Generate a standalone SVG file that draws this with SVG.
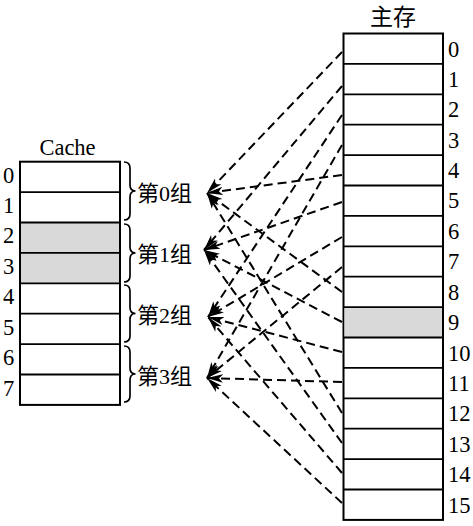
<svg xmlns="http://www.w3.org/2000/svg" width="473" height="526" viewBox="0 0 473 526">
<defs>
<marker id="ah" markerUnits="userSpaceOnUse" markerWidth="17" markerHeight="10" viewBox="0 -5 17 10" refX="16" refY="0" orient="auto">
<path d="M16,0 L0,-4.2 L4,0 L0,4.2 Z" fill="#000"/>
</marker>
<style>
.box{fill:#fff;stroke:#000;stroke-width:2}
.sep{stroke:#000;stroke-width:1.8}
.gray{fill:#d9d9d9}
.t{font-family:"Liberation Serif","Noto Sans CJK SC",serif;font-size:22.5px;fill:#000}
.cjk{font-family:"Liberation Serif","Noto Sans CJK SC",serif;font-size:22px;fill:#000}
.br{fill:none;stroke:#000;stroke-width:1.7}
.ln{fill:none;stroke:#000;stroke-width:2;stroke-dasharray:9,5;marker-end:url(#ah)}
</style>
</defs>
<rect width="473" height="526" fill="#fff"/>

<g id="cache">
<text class="t" x="67.5" y="155" text-anchor="middle">Cache</text>
<rect class="box" x="20" y="161.7" width="100" height="243.2"/>
<rect class="gray" x="21" y="222.5" width="98" height="60.8"/>
<g class="sep">
<line x1="20" y1="192.1" x2="120" y2="192.1"/>
<line x1="20" y1="222.5" x2="120" y2="222.5"/>
<line x1="20" y1="252.9" x2="120" y2="252.9"/>
<line x1="20" y1="283.3" x2="120" y2="283.3"/>
<line x1="20" y1="313.7" x2="120" y2="313.7"/>
<line x1="20" y1="344.1" x2="120" y2="344.1"/>
<line x1="20" y1="374.5" x2="120" y2="374.5"/>
</g>
<g class="t">
<text x="3" y="183">0</text>
<text x="3" y="213">1</text>
<text x="3" y="243">2</text>
<text x="3" y="274">3</text>
<text x="3" y="304">4</text>
<text x="3" y="335">5</text>
<text x="3" y="365">6</text>
<text x="3" y="396">7</text>
</g>
</g>

<g id="group0">
<path class="br" d="M124,162 Q130,162 130,168 L130,185 Q130,191 135.5,191 Q130,191 130,197 L130,214 Q130,220 124,220"/>
<text class="cjk" x="137" y="201">第0组</text>
</g>
<g id="group1">
<path class="br" d="M124,224 Q130,224 130,230 L130,247 Q130,253 135.5,253 Q130,253 130,259 L130,276 Q130,282 124,282"/>
<text class="cjk" x="137" y="262">第1组</text>
</g>
<g id="group2">
<path class="br" d="M124,285 Q130,285 130,291 L130,307.5 Q130,313.5 135.5,313.5 Q130,313.5 130,319.5 L130,336 Q130,342 124,342"/>
<text class="cjk" x="137" y="323">第2组</text>
</g>
<g id="group3">
<path class="br" d="M124,346 Q130,346 130,352 L130,368 Q130,374 135.5,374 Q130,374 130,380 L130,396 Q130,402 124,402"/>
<text class="cjk" x="137" y="384">第3组</text>
</g>

<g id="memory">
<text class="cjk" x="393" y="25" text-anchor="middle" style="font-size:23px">主存</text>
<rect class="box" x="343.5" y="33.5" width="99.5" height="486.4"/>
<rect class="gray" x="344.5" y="307.1" width="97.5" height="30.4"/>
<g class="sep">
<line x1="343.5" y1="63.9" x2="443" y2="63.9"/>
<line x1="343.5" y1="94.3" x2="443" y2="94.3"/>
<line x1="343.5" y1="124.7" x2="443" y2="124.7"/>
<line x1="343.5" y1="155.1" x2="443" y2="155.1"/>
<line x1="343.5" y1="185.5" x2="443" y2="185.5"/>
<line x1="343.5" y1="215.9" x2="443" y2="215.9"/>
<line x1="343.5" y1="246.3" x2="443" y2="246.3"/>
<line x1="343.5" y1="276.7" x2="443" y2="276.7"/>
<line x1="343.5" y1="307.1" x2="443" y2="307.1"/>
<line x1="343.5" y1="337.5" x2="443" y2="337.5"/>
<line x1="343.5" y1="367.9" x2="443" y2="367.9"/>
<line x1="343.5" y1="398.3" x2="443" y2="398.3"/>
<line x1="343.5" y1="428.7" x2="443" y2="428.7"/>
<line x1="343.5" y1="459.1" x2="443" y2="459.1"/>
<line x1="343.5" y1="489.5" x2="443" y2="489.5"/>
</g>
<g class="t">
<text x="448" y="57">0</text>
<text x="448" y="87">1</text>
<text x="448" y="117">2</text>
<text x="448" y="148">3</text>
<text x="448" y="178">4</text>
<text x="448" y="208">5</text>
<text x="448" y="239">6</text>
<text x="448" y="269">7</text>
<text x="448" y="300">8</text>
<text x="448" y="330">9</text>
<text x="448" y="361">10</text>
<text x="448" y="391">11</text>
<text x="448" y="421">12</text>
<text x="448" y="452">13</text>
<text x="448" y="482">14</text>
<text x="448" y="513">15</text>
</g>
</g>

<g id="connectors">
<line class="ln" x1="342" y1="52" x2="207" y2="193"/>
<line class="ln" x1="342" y1="175" x2="207" y2="193"/>
<line class="ln" x1="342" y1="292" x2="207" y2="193"/>
<line class="ln" x1="342" y1="413" x2="207" y2="193"/>
<line class="ln" x1="342" y1="86" x2="204" y2="250"/>
<line class="ln" x1="342" y1="202" x2="204" y2="250"/>
<line class="ln" x1="342" y1="322" x2="204" y2="250"/>
<line class="ln" x1="342" y1="443" x2="204" y2="250"/>
<line class="ln" x1="342" y1="115" x2="208" y2="317"/>
<line class="ln" x1="342" y1="237" x2="208" y2="317"/>
<line class="ln" x1="342" y1="352" x2="208" y2="317"/>
<line class="ln" x1="342" y1="473" x2="208" y2="317"/>
<line class="ln" x1="342" y1="145" x2="207" y2="378"/>
<line class="ln" x1="342" y1="267" x2="207" y2="378"/>
<line class="ln" x1="342" y1="382" x2="207" y2="378"/>
<line class="ln" x1="342" y1="503" x2="207" y2="378"/>
</g>
</svg>
